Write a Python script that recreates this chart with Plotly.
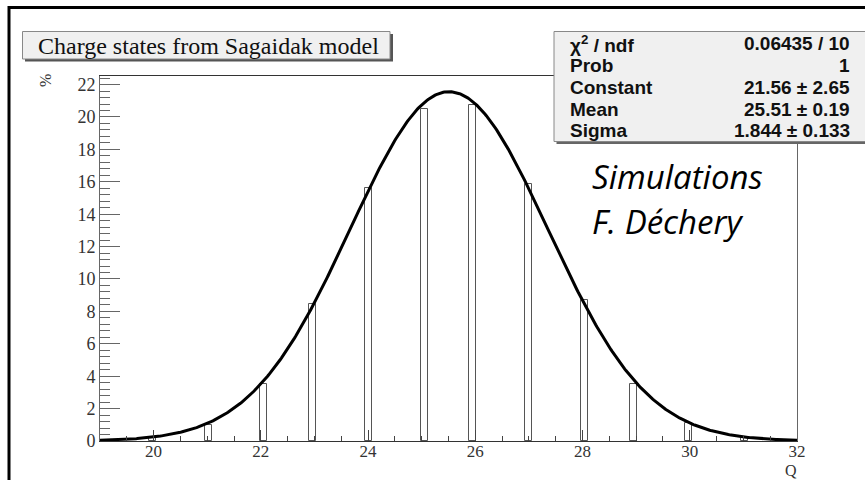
import numpy as np
import plotly.graph_objects as go

# ---- data ----
charges = [20, 21, 22, 23, 24, 25, 26, 27, 28, 29, 30, 31]
percent = [0.2, 1.0, 3.5, 8.46, 15.6, 20.48, 20.74, 15.85, 8.7, 3.5, 1.13, 0.2]

# histogram binning of the original (100 bins over 19..32)
hist_min, hist_max, n_bins = 19.0, 32.0, 100

# gaussian fit parameters shown in the stats box
fit_constant = 21.56
fit_mean = 25.51
fit_sigma = 1.844

stats_labels = ["χ<sup>2</sup> / ndf", "Prob", "Constant", "Mean", "Sigma"]
stats_values = ["0.06435 / 10", "1", "21.56 ± 2.65", "25.51 ± 0.19", "1.844 ± 0.133"]

x_ticks = [20, 22, 24, 26, 28, 30, 32]
y_ticks = [0, 2, 4, 6, 8, 10, 12, 14, 16, 18, 20, 22]

# ---- derived ----
bw = (hist_max - hist_min) / n_bins
bin_centers = [hist_min + bw * np.floor((q - hist_min) / bw) + bw / 2 for q in charges]
xf = np.linspace(hist_min, hist_max, 600)
yf = fit_constant * np.exp(-0.5 * ((xf - fit_mean) / fit_sigma) ** 2)

W_PX, H_PX = 865, 480
L, R, T, B = 100, 68, 76, 39
PW, PH = W_PX - L - R, H_PX - T - B


def px(x):
    return (x - L) / PW


def py(y):
    return 1 - (y - T) / PH


fig = go.Figure()
fig.add_trace(go.Bar(
    x=bin_centers, y=percent, width=bw,
    marker=dict(color="white", line=dict(color="#555555", width=1)),
    hoverinfo="x+y", showlegend=False,
))
fig.add_trace(go.Scatter(
    x=xf, y=yf, mode="lines", line=dict(color="black", width=3),
    showlegend=False, hoverinfo="skip",
))

serif = "Liberation Serif"
fig.update_layout(
    width=W_PX, height=H_PX,
    margin=dict(l=L, r=R, t=T, b=B, pad=0),
    paper_bgcolor="white", plot_bgcolor="white",
    bargap=0,
    xaxis=dict(
        range=[hist_min, hist_max], tickvals=x_ticks, ticktext=[str(v) for v in x_ticks],
        ticks="inside", ticklen=11, tickwidth=1, tickcolor="#444",
        minor=dict(dtick=0.5, tick0=0, ticks="inside", ticklen=5, tickcolor="#444", tickwidth=1),
        showline=True, linecolor="#333", linewidth=1.2, mirror=True,
        showgrid=False, zeroline=False,
        ticklabelstandoff=-6,
        tickfont=dict(family=serif, size=17, color="#333"),
    ),
    yaxis=dict(
        range=[0, 22.53], tickvals=y_ticks, ticktext=[str(v) for v in y_ticks],
        ticks="inside", ticklen=20, tickwidth=1, tickcolor="#666",
        minor=dict(dtick=0.4, tick0=0, ticks="inside", ticklen=10, tickcolor="#666", tickwidth=1),
        showline=True, linecolor="#666", linewidth=1, mirror=True,
        showgrid=False, zeroline=False,
        tickfont=dict(family=serif, size=18, color="#333"),
    ),
)

shapes = []
# outer black frame (top and left)
shapes.append(dict(type="line", xref="paper", yref="paper", x0=px(8), x1=px(870), y0=py(7.5), y1=py(7.5),
                   line=dict(color="black", width=3)))
shapes.append(dict(type="line", xref="paper", yref="paper", x0=px(9), x1=px(9), y0=py(6), y1=py(485),
                   line=dict(color="black", width=3)))
# title box with shadow
shapes.append(dict(type="rect", xref="paper", yref="paper", x0=px(25), x1=px(393), y0=py(34), y1=py(61.5),
                   fillcolor="#555", line=dict(width=0)))
shapes.append(dict(type="rect", xref="paper", yref="paper", x0=px(22.5), x1=px(390), y0=py(31.5), y1=py(59),
                   fillcolor="#f0f0f0", line=dict(color="#888", width=1)))
# stats box with shadow
shapes.append(dict(type="rect", xref="paper", yref="paper", x0=px(556.5), x1=px(875), y0=py(34), y1=py(144),
                   fillcolor="#666", line=dict(width=0)))
shapes.append(dict(type="rect", xref="paper", yref="paper", x0=px(554), x1=px(875), y0=py(31.5), y1=py(141.5),
                   fillcolor="#f0f0f0", line=dict(color="#888", width=1)))
fig.update_layout(shapes=shapes)

ann = []
ann.append(dict(xref="paper", yref="paper", x=px(36), y=py(45.5), xanchor="left", yanchor="middle",
                text="Charge states from Sagaidak model", showarrow=False,
                font=dict(family=serif, size=24, color="#111")))
row_y = [43.5, 65.5, 87.5, 109.5, 131]
for lab, val, yy in zip(stats_labels, stats_values, row_y):
    ann.append(dict(xref="paper", yref="paper", x=px(568), y=py(yy), xanchor="left", yanchor="middle",
                    text="<b>" + lab + "</b>", showarrow=False,
                    font=dict(family="Liberation Sans", size=19, color="#111")))
    ann.append(dict(xref="paper", yref="paper", x=px(852), y=py(yy), xanchor="right", yanchor="middle",
                    text="<b>" + val + "</b>", showarrow=False,
                    font=dict(family="Liberation Sans", size=19, color="#111")))
ann.append(dict(xref="paper", yref="paper", x=px(45), y=py(81), xanchor="center", yanchor="middle",
                text="%", textangle=-90, showarrow=False, font=dict(family=serif, size=16, color="#333")))
ann.append(dict(xref="paper", yref="paper", x=px(791), y=py(470.5), xanchor="center", yanchor="middle",
                text="Q", showarrow=False, borderpad=0, font=dict(family=serif, size=16, color="#333")))
ann.append(dict(xref="paper", yref="paper", x=px(590), y=py(176), xanchor="left", yanchor="middle",
                text="<i>Simulations</i>", showarrow=False, font=dict(family="Open Sans", size=33, color="black")))
ann.append(dict(xref="paper", yref="paper", x=px(590), y=py(221), xanchor="left", yanchor="middle",
                text="<i>F. Déchery</i>", showarrow=False, font=dict(family="Open Sans", size=33, color="black")))
fig.update_layout(annotations=ann)

fig.write_html("out.html")
